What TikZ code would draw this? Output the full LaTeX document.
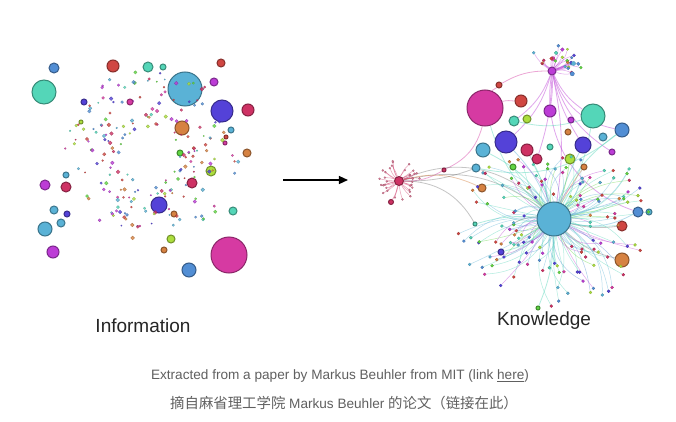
\documentclass[tikz,border=0pt]{standalone}
\usepackage{fontspec}
\setmainfont{Liberation Sans}
\newfontfamily\cjk{Noto Sans CJK SC}
\usepackage{xcolor}
\usetikzlibrary{arrows.meta}

\definecolor{cteal}{RGB}{84,214,184}
\definecolor{cblue}{RGB}{90,178,214}
\definecolor{cblueb}{RGB}{82,142,212}
\definecolor{cindigo}{RGB}{84,66,216}
\definecolor{cmagenta}{RGB}{214,58,162}
\definecolor{ccrimson}{RGB}{206,50,100}
\definecolor{cpink}{RGB}{226,128,156}
\definecolor{cred}{RGB}{208,70,66}
\definecolor{corange}{RGB}{214,130,66}
\definecolor{cgreen}{RGB}{96,214,66}
\definecolor{clime}{RGB}{172,222,62}
\definecolor{cpurple}{RGB}{188,60,214}
\definecolor{capgray}{RGB}{96,96,96}

\pgfdeclarelayer{bg}
\pgfsetlayers{bg,main}

\begin{document}
\begin{tikzpicture}[
    x=1pt,y=-1pt,
    ball/.style={circle, fill=#1, draw=#1!65!black, line width=1pt, inner sep=0pt},
    dot/.style={circle, fill=#1, draw=#1!75!black, line width=0.25pt, inner sep=0pt, minimum size=3pt},
    e/.style={draw=#1, line width=0.5pt, opacity=0.45},
    lbl/.style={font=\fontsize{19}{22}\selectfont, text=black!85},
    captext/.style={font=\fontsize{13.6}{16}\selectfont, text=capgray}
]
\begin{pgfonlayer}{bg}
\fill[white] (0,0) rectangle (676,422);
\end{pgfonlayer}
\useasboundingbox (0,0) rectangle (676,422);
\pgfmathdeclarerandomlist{pal}{{cteal}{cblue}{cblueb}{cindigo}{cmagenta}{ccrimson}{cred}{corange}{cgreen}{clime}{cpurple}}
\pgfmathdeclarerandomlist{edgepal}{{cteal}{cblue}{cblue}{cteal}{cblueb}{cpurple}{cgreen}{cteal}}
\pgfmathsetseed{11}

% Left: information, loose nodes
\foreach \n/\x/\y/\r/\col in {
    in-a/44/92/12/cteal, in-b/54/68/5/cblueb, in-c/113/66/6/cred, in-d/148/67/5/cteal,
    in-e/163/67/3/cteal, in-f/185/89/17/cblue, in-g/221/63/4/cred, in-h/214/82/4/cpurple,
    in-i/222/111/11/cindigo, in-j/248/110/6/ccrimson, in-k/182/128/7/corange, in-l/231/130/3/cblue,
    in-m/226/137/2/cred, in-n/225/143/2/cmagenta, in-o/247/153/4/corange, in-p/180/153/3/cgreen,
    in-q/211/171/5/clime, in-r/192/183/5/ccrimson, in-s/45/185/5/cpurple, in-t/66/187/5/ccrimson,
    in-u/66/175/3/cblue, in-v/159/205/8/cindigo, in-w/174/214/3/corange, in-x/233/211/4/cteal,
    in-y/54/210/4/cblue, in-z/67/214/3/cindigo, in-aa/61/223/4/cblue, in-ab/45/229/7/cblue,
    in-ac/53/252/6/cpurple, in-ad/171/239/4/clime, in-ae/164/250/3/corange, in-af/189/270/7/cblueb,
    in-ag/229/255/18/cmagenta, in-ah/130/102/3/cmagenta, in-ai/84/102/3/cindigo, in-aj/81/122/2/clime}
  \node[ball=\col, minimum size=2pt*\r] (\n) at (\x,\y) {};

% scattered small dots of the left cloud
\foreach \i in {1,...,210}{
  \pgfmathsetmacro\ang{rnd*360}
  \pgfmathsetmacro\rad{30+rnd*60}
  \pgfmathsetmacro\dx{150+\rad*cos(\ang)}
  \pgfmathsetmacro\dy{155+0.95*\rad*sin(\ang)}
  \pgfmathsetmacro\dr{0.7+rnd*1.3}
  \pgfmathrandomitem{\col}{pal}
  \node[dot=\col, minimum size=2pt*\dr, opacity=0.8] (in-dot-\i) at (\dx,\dy) {};
}

% Right: knowledge graph, main nodes
\foreach \n/\x/\y/\r/\col in {
    kb-hub/554/219/17/cblue, kb-mag/485/108/18/cmagenta, kb-top/552/71/4/cpurple, kb-red/399/181/4.5/ccrimson,
    kb-r1/521/101/6/cred, kb-r2/499/85/3/cred, kb-m1/550/111/6/cpurple, kb-t1/593/116/12/cteal,
    kb-b1/622/130/7/cblueb, kb-t2/514/121/5/cteal, kb-l1/527/119/4/clime, kb-p1/571/120/3/cpurple,
    kb-i1/506/142/11/cindigo, kb-c1/527/150/6/ccrimson, kb-b2/483/150/7/cblue, kb-i2/583/145/8/cindigo,
    kb-b3/603/137/4/cblue, kb-o1/568/132/3/corange, kb-t3/550/147/3/cteal, kb-p2/612/152/3/cpurple,
    kb-c2/537/159/5/ccrimson, kb-g1/570/159/5/clime, kb-g2/513/167/3/cgreen, kb-b4/476/168/4/cblue,
    kb-o2/482/188/4/corange, kb-o3/584/167/3/corange, kb-b5/638/212/5/cblueb, kb-b6/649/212/3/cblue,
    kb-r3/622/226/5/cred, kb-o4/622/260/7/corange, kb-g3/538/308/2/cgreen, kb-i3/501/252/3/cindigo,
    kb-r4/444/170/2/ccrimson, kb-t4/475/224/2/cteal, kb-r5/391/202/2.5/ccrimson}
  \node[ball=\col, minimum size=2pt*\r] (\n) at (\x,\y) {};

% long links between the main nodes
\begin{pgfonlayer}{bg}
\foreach \a/\b/\bd/\col in {
    kb-top/kb-r2/-15/cmagenta, kb-r2/kb-mag/-10/cmagenta, kb-top/kb-m1/5/cpurple, kb-top/kb-t1/-15/cpurple,
    kb-top/kb-b1/-30/cpurple, kb-top/kb-i1/15/cpurple, kb-top/kb-hub/10/cpurple, kb-top/kb-i2/-10/cpurple,
    kb-top/kb-p2/-20/cpurple, kb-top/kb-b5/-40/cpurple, kb-top/kb-t2/15/cpurple, kb-top/kb-c2/8/cpurple,
    kb-red/kb-r4/-15/cmagenta, kb-r4/kb-mag/-25/cmagenta, kb-red/kb-hub/25/gray, kb-red/kb-hub/35/gray,
    kb-red/kb-o2/20/corange, kb-red/kb-b4/-10/gray, kb-mag/kb-hub/-15/cteal, kb-t1/kb-hub/10/cteal,
    kb-b1/kb-hub/-15/cteal, kb-i1/kb-hub/10/cblue, kb-i2/kb-hub/-5/cblue, kb-c1/kb-hub/5/cteal,
    kb-b2/kb-hub/15/cteal, kb-hub/kb-b5/-20/cblue, kb-hub/kb-r3/-10/gray, kb-hub/kb-o4/-15/gray,
    kb-hub/kb-g3/10/cteal, kb-hub/kb-i3/15/cteal, kb-mag/kb-r1/10/cmagenta, kb-t2/kb-t1/-15/cteal,
    kb-b4/kb-b1/-25/cteal, kb-g1/kb-hub/5/cgreen, kb-o3/kb-hub/-5/corange, kb-t4/kb-hub/10/cteal,
    kb-red/kb-r5/10/ccrimson, kb-red/kb-t4/30/gray}
  \draw[e=\col, line width=0.8pt] (\a) to[bend left=\bd] (\b);
\end{pgfonlayer}

% spokes round the central hub
\foreach \i in {1,...,140}{
  \pgfmathsetmacro\ang{rnd*360}
  \pgfmathsetmacro\rad{28+rnd*64}
  \pgfmathsetmacro\dx{554+1.05*\rad*cos(\ang)}
  \pgfmathsetmacro\dy{222+0.95*\rad*sin(\ang)}
  \pgfmathsetmacro\bnd{rnd*60-30}
  \pgfmathrandomitem{\col}{pal}
  \pgfmathrandomitem{\ecol}{edgepal}
  \node[dot=\col] (kh-\i) at (\dx,\dy) {};
  \begin{pgfonlayer}{bg}
    \draw[e=\ecol] (kb-hub) to[bend left=\bnd] (kh-\i);
  \end{pgfonlayer}
}

% spokes round the top hub
\foreach \i in {1,...,26}{
  \pgfmathsetmacro\ang{-180+rnd*190}
  \pgfmathsetmacro\rad{10+rnd*20}
  \pgfmathsetmacro\dx{552+\rad*cos(\ang)}
  \pgfmathsetmacro\dy{71+0.9*\rad*sin(\ang)}
  \pgfmathsetmacro\bnd{rnd*40-20}
  \pgfmathsetmacro\ds{2+rnd*3}
  \pgfmathrandomitem{\col}{pal}
  \node[dot=\col, minimum size=1pt*\ds] (kt-\i) at (\dx,\dy) {};
  \begin{pgfonlayer}{bg}
    \draw[e=cpurple] (kb-top) to[bend left=\bnd] (kt-\i);
  \end{pgfonlayer}
}

% spokes round the left hub
\foreach \i in {1,...,34}{
  \pgfmathsetmacro\ang{rnd*360}
  \pgfmathsetmacro\rad{11+rnd*10}
  \pgfmathsetmacro\dx{399+\rad*cos(\ang)}
  \pgfmathsetmacro\dy{181+\rad*sin(\ang)}
  \pgfmathsetmacro\bnd{rnd*30-15}
  \node[dot=cpink, minimum size=2pt] (kr-\i) at (\dx,\dy) {};
  \begin{pgfonlayer}{bg}
    \draw[e=ccrimson] (kb-red) to[bend left=\bnd] (kr-\i);
  \end{pgfonlayer}
}

% arrow and labels
\coordinate (arr-s) at (283,180);
\coordinate (arr-e) at (348,180);
\draw[-{Triangle[length=3.2mm,width=2.8mm]}, line width=1.6pt] (arr-s) -- (arr-e);

\node[lbl] (info-lbl) at (143,326) {Information};
\node[lbl] (know-lbl) at (544,321) {Knowledge};

\node[captext] (cap-en) at (340,376) {Extracted from a paper by Markus Beuhler from MIT (link \underline{here})};
\node[captext] (cap-zh) at (344,403) {{\cjk\fontsize{14.4}{16}\selectfont 摘自麻省理工学院} Markus Beuhler {\cjk\fontsize{14.4}{16}\selectfont 的论文（链接在此）}};
\end{tikzpicture}
\end{document}
